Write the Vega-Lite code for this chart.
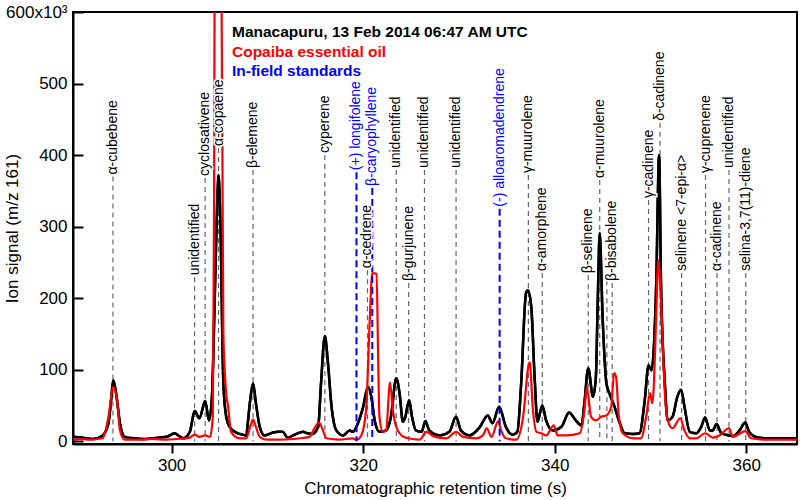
{
  "$schema": "https://vega.github.io/schema/vega-lite/v6.json",
  "width": 724,
  "height": 432,
  "autosize": {"type": "none"},
  "padding": {"left": 73, "top": 12, "right": 3, "bottom": 56},
  "background": "white",
  "config": {
    "font": "Liberation Sans",
    "view": {"stroke": "black", "strokeWidth": 2},
    "axis": {"grid": false, "domainColor": "black", "domainWidth": 2, "tickColor": "black", "tickWidth": 2, "labelColor": "black", "titleColor": "black", "labelFont": "Liberation Sans", "titleFont": "Liberation Sans"}
  },
  "datasets": {
    "traces": [
      {"s":"M","t":289.7,"v":6},{"s":"M","t":290.5,"v":5},{"s":"M","t":291.8,"v":3},{"s":"M","t":292.8,"v":8},{"s":"M","t":293.4,"v":25},{"s":"M","t":293.7,"v":60},{"s":"M","t":293.9,"v":85},{"s":"M","t":294.2,"v":67},{"s":"M","t":294.6,"v":25},{"s":"M","t":295.1,"v":6},{"s":"M","t":296.0,"v":4},{"s":"M","t":297.0,"v":3},{"s":"M","t":298.0,"v":4},{"s":"M","t":298.7,"v":5},{"s":"M","t":299.5,"v":6},{"s":"M","t":300.3,"v":11},{"s":"M","t":300.8,"v":7},{"s":"M","t":301.2,"v":4},{"s":"M","t":301.9,"v":13},{"s":"M","t":302.4,"v":42},{"s":"M","t":302.9,"v":32},{"s":"M","t":303.5,"v":56},{"s":"M","t":303.9,"v":29},{"s":"M","t":304.2,"v":60},{"s":"M","t":304.5,"v":200},{"s":"M","t":304.75,"v":330},{"s":"M","t":304.9,"v":372},{"s":"M","t":305.1,"v":300},{"s":"M","t":305.4,"v":81},{"s":"M","t":305.7,"v":34},{"s":"M","t":306.05,"v":20},{"s":"M","t":306.75,"v":12},{"s":"M","t":307.4,"v":9},{"s":"M","t":307.8,"v":8},{"s":"M","t":307.95,"v":25},{"s":"M","t":308.2,"v":57},{"s":"M","t":308.5,"v":81},{"s":"M","t":308.8,"v":53},{"s":"M","t":309.2,"v":20},{"s":"M","t":309.7,"v":8},{"s":"M","t":310.6,"v":12},{"s":"M","t":311.1,"v":13},{"s":"M","t":311.6,"v":13},{"s":"M","t":312.1,"v":5},{"s":"M","t":312.7,"v":8},{"s":"M","t":313.4,"v":12},{"s":"M","t":313.7,"v":13},{"s":"M","t":314.2,"v":11},{"s":"M","t":314.7,"v":10},{"s":"M","t":315.3,"v":20},{"s":"M","t":315.6,"v":81},{"s":"M","t":316.0,"v":147},{"s":"M","t":316.3,"v":113},{"s":"M","t":316.7,"v":48},{"s":"M","t":317.2,"v":15},{"s":"M","t":317.9,"v":8},{"s":"M","t":318.6,"v":15},{"s":"M","t":318.9,"v":13},{"s":"M","t":319.45,"v":25},{"s":"M","t":320.0,"v":48},{"s":"M","t":320.5,"v":76},{"s":"M","t":320.85,"v":62},{"s":"M","t":321.2,"v":29},{"s":"M","t":321.7,"v":13},{"s":"M","t":322.4,"v":15},{"s":"M","t":322.9,"v":34},{"s":"M","t":323.45,"v":88},{"s":"M","t":323.8,"v":67},{"s":"M","t":324.15,"v":27},{"s":"M","t":324.4,"v":34},{"s":"M","t":324.8,"v":57},{"s":"M","t":325.1,"v":34},{"s":"M","t":325.5,"v":15},{"s":"M","t":326.1,"v":13},{"s":"M","t":326.5,"v":28},{"s":"M","t":326.9,"v":15},{"s":"M","t":328.0,"v":8},{"s":"M","t":329.0,"v":13},{"s":"M","t":329.7,"v":34},{"s":"M","t":330.2,"v":15},{"s":"M","t":331.1,"v":8},{"s":"M","t":332.2,"v":20},{"s":"M","t":333.0,"v":36},{"s":"M","t":333.5,"v":25},{"s":"M","t":334.2,"v":48},{"s":"M","t":334.9,"v":20},{"s":"M","t":335.6,"v":9},{"s":"M","t":336.1,"v":13},{"s":"M","t":336.5,"v":81},{"s":"M","t":337.0,"v":207},{"s":"M","t":337.2,"v":211},{"s":"M","t":337.55,"v":188},{"s":"M","t":337.9,"v":90},{"s":"M","t":338.2,"v":27},{"s":"M","t":338.7,"v":50},{"s":"M","t":339.1,"v":29},{"s":"M","t":339.8,"v":15},{"s":"M","t":340.7,"v":20},{"s":"M","t":341.5,"v":40},{"s":"M","t":342.2,"v":29},{"s":"M","t":342.8,"v":22},{"s":"M","t":343.1,"v":53},{"s":"M","t":343.5,"v":102},{"s":"M","t":344.0,"v":62},{"s":"M","t":344.3,"v":90},{"s":"M","t":344.5,"v":200},{"s":"M","t":344.7,"v":291},{"s":"M","t":345.0,"v":174},{"s":"M","t":345.4,"v":81},{"s":"M","t":345.7,"v":67},{"s":"M","t":346.2,"v":50},{"s":"M","t":346.8,"v":25},{"s":"M","t":347.3,"v":11},{"s":"M","t":348.2,"v":10},{"s":"M","t":348.85,"v":11},{"s":"M","t":349.4,"v":57},{"s":"M","t":349.8,"v":106},{"s":"M","t":350.1,"v":99},{"s":"M","t":350.6,"v":220},{"s":"M","t":350.9,"v":400},{"s":"M","t":351.1,"v":220},{"s":"M","t":351.5,"v":81},{"s":"M","t":351.8,"v":29},{"s":"M","t":352.3,"v":34},{"s":"M","t":352.8,"v":62},{"s":"M","t":353.2,"v":72},{"s":"M","t":353.55,"v":48},{"s":"M","t":354.1,"v":13},{"s":"M","t":354.8,"v":11},{"s":"M","t":355.3,"v":20},{"s":"M","t":355.7,"v":33},{"s":"M","t":356.2,"v":15},{"s":"M","t":356.5,"v":15},{"s":"M","t":356.9,"v":24},{"s":"M","t":357.4,"v":11},{"s":"M","t":358.2,"v":8},{"s":"M","t":358.6,"v":7},{"s":"M","t":359.3,"v":15},{"s":"M","t":359.9,"v":26},{"s":"M","t":360.3,"v":13},{"s":"M","t":361.0,"v":6},{"s":"M","t":362.1,"v":4},{"s":"M","t":363.5,"v":4},{"s":"M","t":365.3,"v":4},
      {"s":"C","t":289.7,"v":2},{"s":"C","t":290.5,"v":3},{"s":"C","t":291.5,"v":2},{"s":"C","t":292.8,"v":4},{"s":"C","t":293.4,"v":34},{"s":"C","t":293.9,"v":76},{"s":"C","t":294.3,"v":57},{"s":"C","t":294.6,"v":15},{"s":"C","t":295.1,"v":2},{"s":"C","t":296.5,"v":2},{"s":"C","t":298.0,"v":3},{"s":"C","t":299.5,"v":2},{"s":"C","t":300.5,"v":3},{"s":"C","t":301.9,"v":5},{"s":"C","t":302.4,"v":9},{"s":"C","t":302.9,"v":6},{"s":"C","t":303.5,"v":8},{"s":"C","t":304.0,"v":6},{"s":"C","t":304.3,"v":34},{"s":"C","t":304.42,"v":300},{"s":"C","t":304.48,"v":600},{"s":"C","t":304.55,"v":1500},{"s":"C","t":304.85,"v":3000},{"s":"C","t":305.15,"v":1500},{"s":"C","t":305.22,"v":600},{"s":"C","t":305.4,"v":150},{"s":"C","t":305.7,"v":67},{"s":"C","t":305.9,"v":48},{"s":"C","t":306.2,"v":13},{"s":"C","t":307.1,"v":4},{"s":"C","t":307.8,"v":4},{"s":"C","t":308.2,"v":20},{"s":"C","t":308.5,"v":30},{"s":"C","t":308.8,"v":20},{"s":"C","t":309.2,"v":6},{"s":"C","t":309.9,"v":2},{"s":"C","t":311.3,"v":2},{"s":"C","t":312.7,"v":3},{"s":"C","t":313.4,"v":4},{"s":"C","t":314.4,"v":6},{"s":"C","t":314.9,"v":18},{"s":"C","t":315.4,"v":26},{"s":"C","t":315.8,"v":15},{"s":"C","t":316.15,"v":4},{"s":"C","t":317.5,"v":2},{"s":"C","t":318.9,"v":4},{"s":"C","t":319.3,"v":2},{"s":"C","t":319.8,"v":8},{"s":"C","t":320.3,"v":43},{"s":"C","t":320.7,"v":174},{"s":"C","t":320.95,"v":235},{"s":"C","t":321.4,"v":234},{"s":"C","t":321.55,"v":127},{"s":"C","t":321.7,"v":34},{"s":"C","t":322.05,"v":13},{"s":"C","t":322.4,"v":15},{"s":"C","t":322.8,"v":82},{"s":"C","t":323.1,"v":43},{"s":"C","t":323.45,"v":20},{"s":"C","t":324.0,"v":8},{"s":"C","t":324.7,"v":4},{"s":"C","t":325.9,"v":2},{"s":"C","t":326.6,"v":13},{"s":"C","t":327.3,"v":7},{"s":"C","t":328.7,"v":4},{"s":"C","t":329.7,"v":13},{"s":"C","t":330.4,"v":6},{"s":"C","t":331.8,"v":4},{"s":"C","t":332.5,"v":8},{"s":"C","t":332.9,"v":18},{"s":"C","t":333.4,"v":6},{"s":"C","t":334.1,"v":28},{"s":"C","t":334.4,"v":15},{"s":"C","t":334.9,"v":4},{"s":"C","t":336.0,"v":2},{"s":"C","t":336.7,"v":34},{"s":"C","t":337.3,"v":108},{"s":"C","t":337.4,"v":110},{"s":"C","t":337.7,"v":48},{"s":"C","t":338.1,"v":13},{"s":"C","t":338.6,"v":11},{"s":"C","t":339.1,"v":8},{"s":"C","t":339.9,"v":22},{"s":"C","t":340.3,"v":8},{"s":"C","t":341.2,"v":8},{"s":"C","t":342.6,"v":11},{"s":"C","t":343.1,"v":43},{"s":"C","t":343.35,"v":76},{"s":"C","t":343.8,"v":34},{"s":"C","t":344.3,"v":29},{"s":"C","t":344.85,"v":34},{"s":"C","t":345.4,"v":36},{"s":"C","t":345.9,"v":48},{"s":"C","t":346.2,"v":95},{"s":"C","t":346.4,"v":90},{"s":"C","t":346.7,"v":34},{"s":"C","t":347.1,"v":11},{"s":"C","t":348.2,"v":4},{"s":"C","t":349.0,"v":4},{"s":"C","t":349.55,"v":34},{"s":"C","t":349.95,"v":67},{"s":"C","t":350.2,"v":53},{"s":"C","t":350.6,"v":174},{"s":"C","t":350.8,"v":253},{"s":"C","t":351.1,"v":197},{"s":"C","t":351.5,"v":67},{"s":"C","t":351.8,"v":29},{"s":"C","t":352.3,"v":18},{"s":"C","t":353.1,"v":32},{"s":"C","t":353.55,"v":15},{"s":"C","t":354.1,"v":4},{"s":"C","t":354.8,"v":4},{"s":"C","t":355.7,"v":11},{"s":"C","t":356.5,"v":5},{"s":"C","t":357.2,"v":8},{"s":"C","t":358.2,"v":18},{"s":"C","t":358.6,"v":6},{"s":"C","t":359.9,"v":14},{"s":"C","t":360.5,"v":4},{"s":"C","t":362.1,"v":2},{"s":"C","t":365.3,"v":2}
    ],
    "markers": [
      {"t":293.87,"top":370,"name":"α-cubebene","kind":"peak"},
      {"t":302.4,"top":229,"name":"unidentified","kind":"peak"},
      {"t":303.5,"top":368,"name":"cyclosativene","kind":"peak"},
      {"t":304.9,"top":410,"name":"α-copaene","kind":"peak"},
      {"t":308.5,"top":379,"name":"β-elemene","kind":"peak"},
      {"t":316.0,"top":400,"name":"cyperene","kind":"peak"},
      {"t":319.3,"top":376,"name":"(+) longifolene","kind":"std"},
      {"t":320.45,"top":239,"name":"α-cedrene","kind":"peak"},
      {"t":320.95,"top":354,"name":"β-caryophyllene","kind":"std"},
      {"t":323.45,"top":379,"name":"unidentified","kind":"peak"},
      {"t":324.75,"top":221,"name":"β-gurjunene","kind":"peak"},
      {"t":326.4,"top":379,"name":"unidentified","kind":"peak"},
      {"t":329.7,"top":379,"name":"unidentified","kind":"peak"},
      {"t":334.25,"top":325,"name":"(-) alloaromadendrene","kind":"std"},
      {"t":337.25,"top":372,"name":"γ-muurolene","kind":"peak"},
      {"t":338.7,"top":235,"name":"α-amorphene","kind":"peak"},
      {"t":343.5,"top":232,"name":"β-selinene","kind":"peak"},
      {"t":344.7,"top":365,"name":"α-muurolene","kind":"peak"},
      {"t":345.45,"top":225,"name":"","kind":"peak"},
      {"t":346.0,"top":221,"name":"β-bisabolene","kind":"peak"},
      {"t":349.8,"top":337,"name":"γ-cadinene","kind":"peak"},
      {"t":351.0,"top":445,"name":"δ-cadinene","kind":"peak"},
      {"t":353.25,"top":235,"name":"selinene <7-epi-α>","kind":"peak"},
      {"t":355.75,"top":372,"name":"γ-cuprenene","kind":"peak"},
      {"t":356.95,"top":235,"name":"α-cadinene","kind":"peak"},
      {"t":358.2,"top":379,"name":"unidentified","kind":"peak"},
      {"t":359.95,"top":235,"name":"selina-3,7(11)-diene","kind":"peak"}
    ],
    "legend": [
      {"t":306.3,"v":572,"text":"Manacapuru, 13 Feb 2014 06:47 AM UTC","kind":"M"},
      {"t":306.3,"v":544,"text":"Copaiba essential oil","kind":"C"},
      {"t":306.3,"v":517,"text":"In-field standards","kind":"S"}
    ]
  },
  "layer": [
    {
      "data": {"name": "traces"},
      "transform": [{"filter": "datum.s == 'M'"}],
      "mark": {"type": "line", "color": "black", "strokeWidth": 2.5, "clip": true, "interpolate": "monotone"},
      "encoding": {
        "x": {"field": "t", "type": "quantitative", "scale": {"domain": [289.7, 365.3], "nice": false, "zero": false},
          "axis": {"values": [300, 320, 340, 360], "tickSize": 9, "labelFontSize": 17, "labelPadding": 4, "title": "Chromatographic retention time (s)", "titleFontSize": 17, "titleFontWeight": "normal", "titlePadding": 7}},
        "y": {"field": "v", "type": "quantitative", "scale": {"domain": [-4, 600], "nice": false, "zero": false},
          "axis": {"values": [0, 100, 200, 300, 400, 500, 600], "tickSize": -10, "labelFontSize": 17, "labelPadding": 16, "labelExpr": "datum.value == 600 ? '600x10³' : datum.label", "title": "Ion signal (m/z 161)", "titleFontSize": 17, "titleFontWeight": "normal", "titleX": -61, "titleY": 216, "titleAngle": 270, "titleAlign": "center", "titleBaseline": "middle"}}
      }
    },
    {
      "data": {"name": "markers"},
      "transform": [{"filter": "datum.kind == 'peak'"}],
      "mark": {"type": "rule", "color": "#666666", "strokeWidth": 1.2, "strokeDash": [5, 4]},
      "encoding": {
        "x": {"field": "t", "type": "quantitative"},
        "y": {"field": "top", "type": "quantitative"},
        "y2": {"datum": 0}
      }
    },
    {
      "data": {"name": "traces"},
      "transform": [{"filter": "datum.s == 'M'"}],
      "mark": {"type": "line", "color": "black", "strokeWidth": 2.5, "clip": true, "interpolate": "monotone"},
      "encoding": {
        "x": {"field": "t", "type": "quantitative"},
        "y": {"field": "v", "type": "quantitative"}
      }
    },
    {
      "data": {"name": "traces"},
      "transform": [{"filter": "datum.s == 'C'"}],
      "mark": {"type": "line", "color": "#ff0000", "strokeWidth": 2.2, "clip": true, "interpolate": "monotone"},
      "encoding": {
        "x": {"field": "t", "type": "quantitative"},
        "y": {"field": "v", "type": "quantitative"}
      }
    },
    {
      "data": {"name": "markers"},
      "transform": [{"filter": "datum.kind == 'std'"}],
      "mark": {"type": "rule", "color": "#0000ff", "strokeWidth": 2, "strokeDash": [7, 4]},
      "encoding": {
        "x": {"field": "t", "type": "quantitative"},
        "y": {"field": "top", "type": "quantitative"},
        "y2": {"datum": 0}
      }
    },
    {
      "data": {"name": "markers"},
      "mark": {"type": "text", "angle": 270, "align": "left", "baseline": "middle", "dx": 2, "fontSize": 14, "stroke": "white", "strokeWidth": 3, "color": "white"},
      "encoding": {
        "x": {"field": "t", "type": "quantitative"},
        "y": {"field": "top", "type": "quantitative"},
        "text": {"field": "name"}
      }
    },
    {
      "data": {"name": "markers"},
      "mark": {"type": "text", "angle": 270, "align": "left", "baseline": "middle", "dx": 2, "fontSize": 14},
      "encoding": {
        "x": {"field": "t", "type": "quantitative"},
        "y": {"field": "top", "type": "quantitative"},
        "text": {"field": "name"},
        "color": {"condition": {"test": "datum.kind == 'std'", "value": "#0000ff"}, "value": "black"}
      }
    },
    {
      "data": {"name": "legend"},
      "mark": {"type": "text", "align": "left", "baseline": "middle", "fontSize": 15.5, "fontWeight": "bold"},
      "encoding": {
        "x": {"field": "t", "type": "quantitative"},
        "y": {"field": "v", "type": "quantitative"},
        "text": {"field": "text"},
        "color": {"condition": [{"test": "datum.kind == 'C'", "value": "#ff0000"}, {"test": "datum.kind == 'S'", "value": "#0000ff"}], "value": "black"}
      }
    }
  ]
}
